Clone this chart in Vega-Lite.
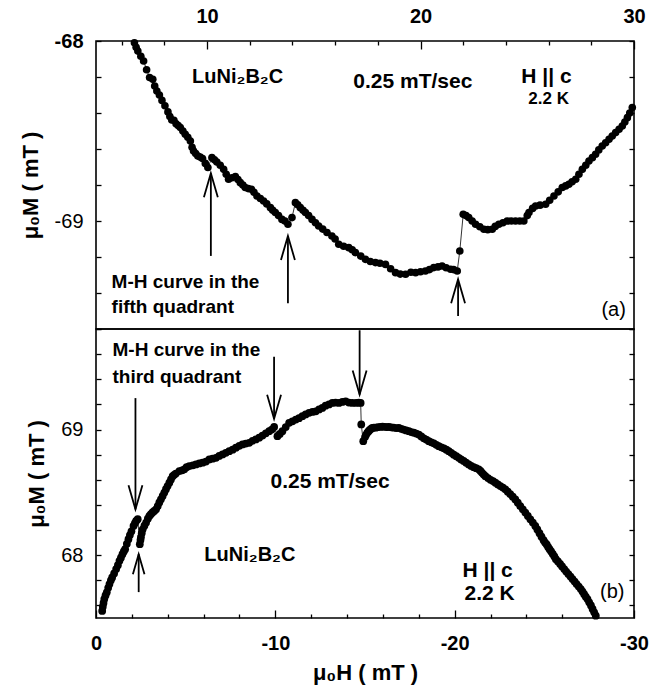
{
  "$schema": "https://vega.github.io/schema/vega-lite/v6.json",
  "padding": {"left": 18, "top": 5, "right": 8, "bottom": 2},
  "spacing": 0,
  "bounds": "flush",
  "config": {
    "font": "Liberation Sans",
    "view": {"stroke": "black", "strokeWidth": 1.6},
    "axis": {"domain": false, "grid": false, "tickColor": "black", "tickWidth": 1.3, "labelColor": "black", "titleColor": "black", "labelFlush": false, "labelOverlap": false}
  },
  "datasets": {
    "top": [
      {"H":6.60,"M":-68.010},{"H":6.68,"M":-68.035},{"H":6.76,"M":-68.056},{"H":6.90,"M":-68.085},{"H":7.03,"M":-68.111},{"H":7.17,"M":-68.160},{"H":7.31,"M":-68.203},{"H":7.46,"M":-68.213},{"H":7.55,"M":-68.250},{"H":7.65,"M":-68.278},{"H":7.77,"M":-68.300},{"H":7.89,"M":-68.330},{"H":8.03,"M":-68.360},{"H":8.17,"M":-68.394},{"H":8.26,"M":-68.420},{"H":8.35,"M":-68.439},{"H":8.45,"M":-68.440},{"H":8.55,"M":-68.460},{"H":8.65,"M":-68.470},{"H":8.75,"M":-68.481},{"H":8.87,"M":-68.500},{"H":8.98,"M":-68.518},{"H":9.10,"M":-68.535},{"H":9.22,"M":-68.556},{"H":9.30,"M":-68.590},{"H":9.37,"M":-68.611},{"H":9.47,"M":-68.625},{"H":9.57,"M":-68.639},{"H":9.68,"M":-68.645},{"H":9.79,"M":-68.653},{"H":9.92,"M":-68.680},{"H":10.04,"M":-68.703},{"H":10.23,"M":-68.648},{"H":10.35,"M":-68.660},{"H":10.46,"M":-68.672},{"H":10.62,"M":-68.690},{"H":10.78,"M":-68.713},{"H":10.90,"M":-68.740},{"H":11.01,"M":-68.768},{"H":11.17,"M":-68.760},{"H":11.33,"M":-68.753},{"H":11.45,"M":-68.770},{"H":11.56,"M":-68.787},{"H":11.68,"M":-68.800},{"H":11.79,"M":-68.814},{"H":11.93,"M":-68.820},{"H":12.08,"M":-68.824},{"H":12.20,"M":-68.840},{"H":12.34,"M":-68.861},{"H":12.50,"M":-68.875},{"H":12.65,"M":-68.889},{"H":12.80,"M":-68.905},{"H":12.97,"M":-68.926},{"H":13.08,"M":-68.940},{"H":13.20,"M":-68.953},{"H":13.35,"M":-68.970},{"H":13.51,"M":-68.991},{"H":13.65,"M":-69.000},{"H":13.79,"M":-69.018},{"H":13.98,"M":-68.981},{"H":14.14,"M":-68.898},{"H":14.25,"M":-68.910},{"H":14.37,"M":-68.926},{"H":14.50,"M":-68.940},{"H":14.61,"M":-68.953},{"H":14.76,"M":-68.970},{"H":14.92,"M":-68.991},{"H":15.08,"M":-69.010},{"H":15.23,"M":-69.028},{"H":15.42,"M":-69.045},{"H":15.62,"M":-69.064},{"H":15.85,"M":-69.083},{"H":16.00,"M":-69.100},{"H":16.17,"M":-69.129},{"H":16.40,"M":-69.140},{"H":16.64,"M":-69.148},{"H":16.80,"M":-69.160},{"H":16.95,"M":-69.176},{"H":17.20,"M":-69.195},{"H":17.42,"M":-69.213},{"H":17.65,"M":-69.225},{"H":17.89,"M":-69.231},{"H":18.10,"M":-69.235},{"H":18.36,"M":-69.241},{"H":18.60,"M":-69.265},{"H":18.83,"M":-69.287},{"H":19.05,"M":-69.295},{"H":19.30,"M":-69.296},{"H":19.55,"M":-69.285},{"H":19.77,"M":-69.287},{"H":20.00,"M":-69.282},{"H":20.23,"M":-69.278},{"H":20.42,"M":-69.270},{"H":20.62,"M":-69.259},{"H":20.82,"M":-69.255},{"H":21.01,"M":-69.250},{"H":21.20,"M":-69.260},{"H":21.41,"M":-69.268},{"H":21.55,"M":-69.270},{"H":21.72,"M":-69.278},{"H":21.84,"M":-69.167},{"H":22.00,"M":-68.963},{"H":22.13,"M":-68.970},{"H":22.26,"M":-68.981},{"H":22.42,"M":-69.000},{"H":22.58,"M":-69.018},{"H":22.78,"M":-69.032},{"H":22.97,"M":-69.046},{"H":23.15,"M":-69.048},{"H":23.36,"M":-69.046},{"H":23.50,"M":-69.030},{"H":23.67,"M":-69.018},{"H":23.86,"M":-69.010},{"H":24.06,"M":-69.000},{"H":24.25,"M":-69.000},{"H":24.45,"M":-69.000},{"H":24.65,"M":-69.000},{"H":24.84,"M":-69.000},{"H":25.00,"M":-68.970},{"H":25.08,"M":-68.953},{"H":25.25,"M":-68.930},{"H":25.39,"M":-68.917},{"H":25.60,"M":-68.912},{"H":25.86,"M":-68.907},{"H":26.05,"M":-68.885},{"H":26.25,"M":-68.861},{"H":26.45,"M":-68.838},{"H":26.64,"M":-68.814},{"H":26.80,"M":-68.805},{"H":26.95,"M":-68.796},{"H":27.10,"M":-68.782},{"H":27.27,"M":-68.768},{"H":27.42,"M":-68.740},{"H":27.58,"M":-68.713},{"H":27.74,"M":-68.690},{"H":27.89,"M":-68.667},{"H":28.05,"M":-68.648},{"H":28.20,"M":-68.629},{"H":28.35,"M":-68.605},{"H":28.51,"M":-68.583},{"H":28.67,"M":-68.565},{"H":28.83,"M":-68.546},{"H":28.98,"M":-68.528},{"H":29.14,"M":-68.509},{"H":29.30,"M":-68.490},{"H":29.45,"M":-68.472},{"H":29.57,"M":-68.450},{"H":29.69,"M":-68.426},{"H":29.80,"M":-68.400},{"H":29.92,"M":-68.370}
    ],
    "bottom": [
      {"H":-0.345,"M":67.556},{"H":-0.378,"M":67.590},{"H":-0.420,"M":67.620},{"H":-0.462,"M":67.651},{"H":-0.530,"M":67.680},{"H":-0.601,"M":67.704},{"H":-0.680,"M":67.740},{"H":-0.751,"M":67.770},{"H":-0.830,"M":67.800},{"H":-0.901,"M":67.823},{"H":-1.010,"M":67.855},{"H":-1.124,"M":67.889},{"H":-1.220,"M":67.920},{"H":-1.308,"M":67.955},{"H":-1.390,"M":67.980},{"H":-1.475,"M":68.008},{"H":-1.550,"M":68.030},{"H":-1.625,"M":68.048},{"H":-1.720,"M":68.090},{"H":-1.809,"M":68.127},{"H":-1.890,"M":68.160},{"H":-1.976,"M":68.190},{"H":-2.092,"M":68.233},{"H":-2.170,"M":68.255},{"H":-2.237,"M":68.272},{"H":-2.326,"M":68.286},
      {"H":-2.443,"M":68.087},{"H":-2.480,"M":68.120},{"H":-2.504,"M":68.143},{"H":-2.550,"M":68.175},{"H":-2.604,"M":68.206},{"H":-2.700,"M":68.235},{"H":-2.794,"M":68.260},{"H":-2.890,"M":68.290},{"H":-2.977,"M":68.312},{"H":-3.060,"M":68.326},{"H":-3.150,"M":68.340},{"H":-3.250,"M":68.352},{"H":-3.350,"M":68.365},{"H":-3.440,"M":68.390},{"H":-3.530,"M":68.420},{"H":-3.620,"M":68.445},{"H":-3.717,"M":68.471},{"H":-3.810,"M":68.498},{"H":-3.900,"M":68.525},{"H":-3.990,"M":68.550},{"H":-4.090,"M":68.577},{"H":-4.180,"M":68.603},{"H":-4.274,"M":68.629},{"H":-4.360,"M":68.640},{"H":-4.450,"M":68.650},{"H":-4.647,"M":68.669},{"H":-4.800,"M":68.675},{"H":-4.925,"M":68.683},{"H":-5.050,"M":68.700},{"H":-5.203,"M":68.709},{"H":-5.400,"M":68.715},{"H":-5.576,"M":68.722},{"H":-5.760,"M":68.730},{"H":-5.943,"M":68.736},{"H":-6.130,"M":68.745},{"H":-6.316,"M":68.762},{"H":-6.500,"M":68.768},{"H":-6.689,"M":68.775},{"H":-6.870,"M":68.790},{"H":-7.056,"M":68.802},{"H":-7.240,"M":68.815},{"H":-7.429,"M":68.828},{"H":-7.620,"M":68.840},{"H":-7.802,"M":68.855},{"H":-7.990,"M":68.870},{"H":-8.169,"M":68.881},{"H":-8.350,"M":68.888},{"H":-8.542,"M":68.894},{"H":-8.730,"M":68.910},{"H":-8.915,"M":68.921},{"H":-9.100,"M":68.935},{"H":-9.282,"M":68.952},{"H":-9.470,"M":68.970},{"H":-9.655,"M":68.987},{"H":-9.800,"M":69.000},{"H":-9.933,"M":69.021},{"H":-10.117,"M":68.947},{"H":-10.250,"M":68.965},{"H":-10.395,"M":68.987},{"H":-10.580,"M":69.020},{"H":-10.768,"M":69.053},{"H":-10.950,"M":69.065},{"H":-11.141,"M":69.079},{"H":-11.320,"M":69.090},{"H":-11.508,"M":69.106},{"H":-11.690,"M":69.120},{"H":-11.881,"M":69.133},{"H":-12.070,"M":69.140},{"H":-12.254,"M":69.145},{"H":-12.440,"M":69.160},{"H":-12.621,"M":69.172},{"H":-12.800,"M":69.190},{"H":-12.994,"M":69.200},{"H":-13.178,"M":69.212},{"H":-13.360,"M":69.215},{"H":-13.550,"M":69.212},{"H":-13.740,"M":69.220},{"H":-13.923,"M":69.225},{"H":-14.100,"M":69.215},{"H":-14.290,"M":69.212},{"H":-14.500,"M":69.212},{"H":-14.650,"M":69.215},{"H":-14.758,"M":69.212},{"H":-14.791,"M":69.040},{"H":-14.903,"M":68.907},
      {"H":-15.000,"M":68.940},{"H":-15.060,"M":68.958},{"H":-15.125,"M":68.974},{"H":-15.190,"M":68.985},{"H":-15.250,"M":68.995},{"H":-15.330,"M":69.005},{"H":-15.403,"M":69.013},{"H":-15.500,"M":69.016},{"H":-15.600,"M":69.015},{"H":-15.730,"M":69.020},{"H":-15.871,"M":69.021},{"H":-15.980,"M":69.024},{"H":-16.100,"M":69.022},{"H":-16.220,"M":69.020},{"H":-16.333,"M":69.021},{"H":-16.460,"M":69.018},{"H":-16.600,"M":69.015},{"H":-16.750,"M":69.012},{"H":-16.889,"M":69.013},{"H":-17.020,"M":69.006},{"H":-17.150,"M":69.000},{"H":-17.300,"M":68.993},{"H":-17.446,"M":68.987},{"H":-17.580,"M":68.980},{"H":-17.720,"M":68.975},{"H":-17.860,"M":68.968},{"H":-18.002,"M":68.960},{"H":-18.140,"M":68.945},{"H":-18.280,"M":68.930},{"H":-18.420,"M":68.920},{"H":-18.559,"M":68.907},{"H":-18.700,"M":68.898},{"H":-18.840,"M":68.890},{"H":-18.980,"M":68.878},{"H":-19.115,"M":68.867},{"H":-19.260,"M":68.858},{"H":-19.400,"M":68.850},{"H":-19.540,"M":68.840},{"H":-19.672,"M":68.828},{"H":-19.810,"M":68.815},{"H":-19.950,"M":68.800},{"H":-20.090,"M":68.788},{"H":-20.228,"M":68.775},{"H":-20.360,"M":68.762},{"H":-20.500,"M":68.750},{"H":-20.640,"M":68.736},{"H":-20.785,"M":68.722},{"H":-20.920,"M":68.710},{"H":-21.060,"M":68.700},{"H":-21.200,"M":68.692},{"H":-21.341,"M":68.683},{"H":-21.440,"M":68.670},{"H":-21.530,"M":68.655},{"H":-21.620,"M":68.642},{"H":-21.714,"M":68.629},{"H":-21.860,"M":68.614},{"H":-22.000,"M":68.600},{"H":-22.140,"M":68.590},{"H":-22.271,"M":68.577},{"H":-22.410,"M":68.563},{"H":-22.550,"M":68.550},{"H":-22.690,"M":68.538},{"H":-22.827,"M":68.524},{"H":-22.960,"M":68.505},{"H":-23.100,"M":68.485},{"H":-23.240,"M":68.465},{"H":-23.383,"M":68.444},{"H":-23.520,"M":68.418},{"H":-23.660,"M":68.390},{"H":-23.800,"M":68.365},{"H":-23.940,"M":68.339},{"H":-24.080,"M":68.312},{"H":-24.220,"M":68.285},{"H":-24.360,"M":68.260},{"H":-24.496,"M":68.233},{"H":-24.610,"M":68.205},{"H":-24.730,"M":68.175},{"H":-24.840,"M":68.147},{"H":-24.958,"M":68.119},{"H":-25.040,"M":68.100},{"H":-25.130,"M":68.085},{"H":-25.210,"M":68.066},{"H":-25.292,"M":68.048},{"H":-25.380,"M":68.030},{"H":-25.470,"M":68.010},{"H":-25.560,"M":67.990},{"H":-25.643,"M":67.968},{"H":-25.760,"M":67.950},{"H":-25.880,"M":67.930},{"H":-25.990,"M":67.910},{"H":-26.110,"M":67.889},{"H":-26.220,"M":67.870},{"H":-26.340,"M":67.850},{"H":-26.460,"M":67.830},{"H":-26.572,"M":67.810},{"H":-26.690,"M":67.790},{"H":-26.800,"M":67.770},{"H":-26.920,"M":67.750},{"H":-27.034,"M":67.730},{"H":-27.130,"M":67.710},{"H":-27.220,"M":67.690},{"H":-27.310,"M":67.670},{"H":-27.407,"M":67.651},{"H":-27.500,"M":67.625},{"H":-27.600,"M":67.600},{"H":-27.690,"M":67.572},{"H":-27.779,"M":67.545},{"H":-27.868,"M":67.518}
    ]
  },
  "vconcat": [
    {
      "width": 538,
      "height": 288,
      "layer": [
        {
          "layer": [
            {
              "data": {"name": "top"},
              "mark": {"type": "line", "color": "black", "strokeWidth": 0.8},
              "encoding": {
                "x": {"field": "H", "type": "quantitative", "scale": {"domain": [4.8, 30], "nice": false, "zero": false},
                  "axis": {"orient": "top", "title": null, "values": [10, 20, 30], "labelExpr": "'' + datum.value", "labelOverlap": false, "labelFlush": false, "tickSize": -8, "labelPadding": 23, "labelFontSize": 20, "labelFontWeight": "bold"}},
                "y": {"field": "M", "type": "quantitative", "scale": {"domain": [-69.6, -68], "nice": false, "zero": false},
                  "axis": {"orient": "left", "title": "μ₀M ( mT )", "values": [-69, -68], "labelExpr": "'' + datum.value", "labelOverlap": false, "labelFlush": false, "tickSize": -5, "labelPadding": 18, "labelFontSize": 20, "labelFontWeight": {"condition": {"test": "datum.value === -68", "value": "bold"}, "value": "normal"}, "titleFontSize": 22, "titleFontWeight": "bold", "titlePadding": 12}}
              }
            },
            {
              "data": {"name": "top"},
              "mark": {"type": "point", "filled": true, "color": "black", "size": 58, "opacity": 1},
              "encoding": {"x": {"field": "H", "type": "quantitative"}, "y": {"field": "M", "type": "quantitative"}}
            },
            {
              "data": {"values": [{"H": 19.64, "M": -68.23, "label": "0.25 mT/sec"}, {"H": 25.9, "M": -68.2, "label": "H || c"}]},
              "mark": {"type": "text", "fontSize": 21, "fontWeight": "bold", "align": "center", "baseline": "middle", "color": "black"},
              "encoding": {"x": {"field": "H", "type": "quantitative"}, "y": {"field": "M", "type": "quantitative"}, "text": {"field": "label"}}
            },
            {
              "data": {"values": [{"H": 9.3, "M": -68.2, "label": "LuNi₂B₂C"}]},
              "mark": {"type": "text", "fontSize": 20, "fontWeight": "bold", "align": "left", "baseline": "middle", "color": "black"},
              "encoding": {"x": {"field": "H", "type": "quantitative"}, "y": {"field": "M", "type": "quantitative"}, "text": {"field": "label"}}
            },
            {
              "data": {"values": [{"H": 26.0, "M": -68.32, "label": "2.2 K"}]},
              "mark": {"type": "text", "fontSize": 17, "fontWeight": "bold", "align": "center", "baseline": "middle", "color": "black"},
              "encoding": {"x": {"field": "H", "type": "quantitative"}, "y": {"field": "M", "type": "quantitative"}, "text": {"field": "label"}}
            },
            {
              "data": {"values": [{"H": 5.53, "M": -69.341, "label": "M-H curve in the"}, {"H": 5.53, "M": -69.48, "label": "fifth quadrant"}]},
              "mark": {"type": "text", "fontSize": 19, "fontWeight": "bold", "align": "left", "baseline": "middle", "color": "black"},
              "encoding": {"x": {"field": "H", "type": "quantitative"}, "y": {"field": "M", "type": "quantitative"}, "text": {"field": "label"}}
            },
            {
              "data": {"values": [{"H": 29.62, "M": -69.496, "label": "(a)"}]},
              "mark": {"type": "text", "fontSize": 20, "fontWeight": "normal", "align": "right", "baseline": "middle", "color": "black"},
              "encoding": {"x": {"field": "H", "type": "quantitative"}, "y": {"field": "M", "type": "quantitative"}, "text": {"field": "label"}}
            },
            {
              "data": {"values": [{"H": 10.18, "M": -69.194, "M2": -68.735}, {"H": 13.79, "M": -69.457, "M2": -69.083}, {"H": 21.76, "M": -69.528, "M2": -69.324}]},
              "mark": {"type": "rule", "color": "black", "strokeWidth": 1.8},
              "encoding": {"x": {"field": "H", "type": "quantitative"}, "y": {"field": "M", "type": "quantitative"}, "y2": {"field": "M2"}}
            },
            {
              "data": {"values": [{"H": 10.18, "M": -68.735}, {"H": 13.79, "M": -69.083}, {"H": 21.76, "M": -69.324}]},
              "mark": {"type": "point", "shape": "M-0.29,1L0,0L0.29,1", "size": 2304, "filled": false, "color": "black", "strokeWidth": 1.8, "opacity": 1},
              "encoding": {"x": {"field": "H", "type": "quantitative"}, "y": {"field": "M", "type": "quantitative"}}
            }
          ]
        },
        {
          "data": {"name": "top"},
          "mark": {"type": "point", "opacity": 0},
          "encoding": {
            "x": {"field": "H", "type": "quantitative", "axis": {"orient": "top", "labels": false, "title": null, "values": [6,8,12,14,16,18,22,24,26,28], "tickSize": -4}},
            "y": {"field": "M", "type": "quantitative", "axis": {"orient": "left", "labels": false, "title": null, "values": [-69.6,-69.4,-69.2,-68.8,-68.6,-68.4,-68.2], "tickSize": -5}}
          }
        },
        {
          "data": {"name": "top"},
          "mark": {"type": "point", "opacity": 0},
          "encoding": {
            "x": {"field": "H", "type": "quantitative", "axis": null},
            "y": {"field": "M", "type": "quantitative", "axis": {"orient": "right", "labels": false, "title": null, "values": [-69.6,-69.4,-69.2,-69,-68.8,-68.6,-68.4,-68.2,-68], "tickSize": -5}}
          }
        }
      ],
      "resolve": {"axis": {"x": "independent", "y": "independent"}}
    },
    {
      "width": 538,
      "height": 289,
      "layer": [
        {
          "layer": [
            {
              "data": {"name": "bottom"},
              "mark": {"type": "line", "color": "black", "strokeWidth": 0.8},
              "encoding": {
                "x": {"field": "H", "type": "quantitative", "scale": {"domain": [-30, 0], "reverse": true, "nice": false, "zero": false},
                  "axis": {"orient": "bottom", "title": "μ₀H ( mT )", "values": [0, -10, -20, -30], "labelExpr": "'' + datum.value", "labelOverlap": false, "labelFlush": false, "tickSize": -8, "labelPadding": 23, "labelFontSize": 20, "labelFontWeight": "bold", "titleFontSize": 22, "titleFontWeight": "bold", "titlePadding": 9}},
                "y": {"field": "M", "type": "quantitative", "scale": {"domain": [67.5, 69.8], "nice": false, "zero": false},
                  "axis": {"orient": "left", "title": "μ₀M ( mT )", "values": [68, 69], "labelExpr": "'' + datum.value", "labelOverlap": false, "labelFlush": false, "tickSize": -5, "labelPadding": 18, "labelFontSize": 20, "labelFontWeight": "normal", "titleFontSize": 22, "titleFontWeight": "bold", "titlePadding": 12}}
              }
            },
            {
              "data": {"name": "bottom"},
              "mark": {"type": "point", "filled": true, "color": "black", "size": 60, "opacity": 1},
              "encoding": {"x": {"field": "H", "type": "quantitative"}, "y": {"field": "M", "type": "quantitative"}}
            },
            {
              "data": {"values": [{"H": -13.05, "M": 68.582, "label": "0.25 mT/sec"}, {"H": -21.84, "M": 67.873, "label": "H || c"}, {"H": -21.95, "M": 67.69, "label": "2.2 K"}]},
              "mark": {"type": "text", "fontSize": 21, "fontWeight": "bold", "align": "center", "baseline": "middle", "color": "black"},
              "encoding": {"x": {"field": "H", "type": "quantitative"}, "y": {"field": "M", "type": "quantitative"}, "text": {"field": "label"}}
            },
            {
              "data": {"values": [{"H": -6.04, "M": 68.0, "label": "LuNi₂B₂C"}]},
              "mark": {"type": "text", "fontSize": 20, "fontWeight": "bold", "align": "left", "baseline": "middle", "color": "black"},
              "encoding": {"x": {"field": "H", "type": "quantitative"}, "y": {"field": "M", "type": "quantitative"}, "text": {"field": "label"}}
            },
            {
              "data": {"values": [{"H": -0.92, "M": 69.635, "label": "M-H curve in the"}, {"H": -0.92, "M": 69.42, "label": "third quadrant"}]},
              "mark": {"type": "text", "fontSize": 19, "fontWeight": "bold", "align": "left", "baseline": "middle", "color": "black"},
              "encoding": {"x": {"field": "H", "type": "quantitative"}, "y": {"field": "M", "type": "quantitative"}, "text": {"field": "label"}}
            },
            {
              "data": {"values": [{"H": -29.47, "M": 67.71, "label": "(b)"}]},
              "mark": {"type": "text", "fontSize": 20, "fontWeight": "normal", "align": "right", "baseline": "middle", "color": "black"},
              "encoding": {"x": {"field": "H", "type": "quantitative"}, "y": {"field": "M", "type": "quantitative"}, "text": {"field": "label"}}
            },
            {
              "data": {"values": [{"H": -2.2, "M": 69.25, "M2": 68.365}, {"H": -9.93, "M": 69.58, "M2": 69.085}, {"H": -14.7, "M": 69.79, "M2": 69.278}, {"H": -2.38, "M": 67.706, "M2": 68.008}]},
              "mark": {"type": "rule", "color": "black", "strokeWidth": 1.8},
              "encoding": {"x": {"field": "H", "type": "quantitative"}, "y": {"field": "M", "type": "quantitative"}, "y2": {"field": "M2"}}
            },
            {
              "data": {"values": [{"H": -2.2, "M": 68.365}, {"H": -9.93, "M": 69.085}, {"H": -14.7, "M": 69.278}]},
              "mark": {"type": "point", "shape": "M-0.29,-1L0,0L0.29,-1", "size": 2304, "filled": false, "color": "black", "strokeWidth": 1.8, "opacity": 1},
              "encoding": {"x": {"field": "H", "type": "quantitative"}, "y": {"field": "M", "type": "quantitative"}}
            },
            {
              "data": {"values": [{"H": -2.38, "M": 68.008}]},
              "mark": {"type": "point", "shape": "M-0.29,1L0,0L0.29,1", "size": 1600, "filled": false, "color": "black", "strokeWidth": 1.8, "opacity": 1},
              "encoding": {"x": {"field": "H", "type": "quantitative"}, "y": {"field": "M", "type": "quantitative"}}
            }
          ]
        },
        {
          "data": {"name": "bottom"},
          "mark": {"type": "point", "opacity": 0},
          "encoding": {
            "x": {"field": "H", "type": "quantitative", "axis": {"orient": "bottom", "labels": false, "title": null, "values": [-2,-4,-6,-8,-12,-14,-16,-18,-22,-24,-26,-28], "tickSize": -4}},
            "y": {"field": "M", "type": "quantitative", "axis": {"orient": "left", "labels": false, "title": null, "values": [67.6,67.8,68.2,68.4,68.6,68.8,69.2,69.4,69.6,69.8], "tickSize": -5}}
          }
        },
        {
          "data": {"name": "bottom"},
          "mark": {"type": "point", "opacity": 0},
          "encoding": {
            "x": {"field": "H", "type": "quantitative", "axis": null},
            "y": {"field": "M", "type": "quantitative", "axis": {"orient": "right", "labels": false, "title": null, "values": [67.6,67.8,68,68.2,68.4,68.6,68.8,69,69.2,69.4,69.6,69.8], "tickSize": -5}}
          }
        }
      ],
      "resolve": {"axis": {"x": "independent", "y": "independent"}}
    }
  ]
}
